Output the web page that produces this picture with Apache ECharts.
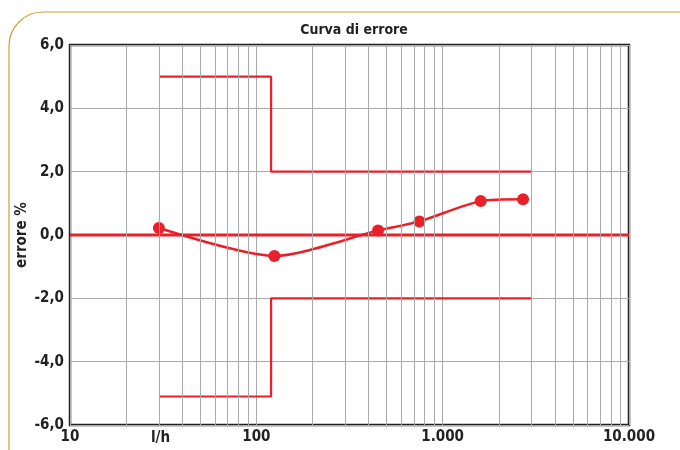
<!DOCTYPE html>
<html><head><meta charset="utf-8">
<script src="https://cdn.jsdelivr.net/npm/echarts@6/dist/echarts.min.js"></script>
<style>html,body{margin:0;padding:0;background:#fff}#c{width:680px;height:450px}</style>
</head><body><div id="c"></div>
<script>
const titleText = 'Curva di errore';
const yName = 'errore %';
const xName = 'l/h';
const flowRates = [30, 125, 450, 750, 1600, 2700];
const errors = [0.22, -0.66, 0.14, 0.43, 1.07, 1.13];
const upperLimitX = [30, 120, 120, 3000];
const upperLimitY = [5, 5, 2, 2];
const lowerLimitX = [30, 120, 120, 3000];
const lowerLimitY = [-5.1, -5.1, -2, -2];
const minorGridX = [20,30,40,50,60,70,80,90,200,300,400,500,600,700,800,900,2000,3000,4000,5000,6000,7000,8000,9000];
const xTicks = [10, 100, 1000, 10000];
const xTickLabels = ['10', '100', '1.000', '10.000'];

const FONT = "'DejaVu Sans Condensed','Liberation Sans Narrow',sans-serif";
const RED = '#e8202a';
const zip = (xs, ys) => xs.map((x, i) => [x, ys[i]]);

const chart = echarts.init(document.getElementById('c'), null, {renderer: 'canvas'});
chart.setOption({
  animation: false,
  backgroundColor: '#fff',
  title: {text: titleText, left: 349, top: 18, textAlign: 'center',
    textStyle: {fontFamily: FONT, fontWeight: 'bold', fontSize: 14, color: '#222'}},
  grid: {left: 70, right: 51, top: 45, bottom: 25, show: true, borderColor: '#222', borderWidth: 2.5, backgroundColor: 'transparent'},
  graphic: [
    {type: 'rect', shape: {x: 9, y: 12, width: 720, height: 480, r: 34}, style: {fill: 'none', stroke: '#c9a236', lineWidth: 1.2}, z: -10},
    {type: 'text', left: 151, top: 431, style: {text: xName, font: "bold 15px " + FONT, fill: '#222'}},
    {type: 'text', x: 22, y: 235, rotation: Math.PI / 2,
      style: {text: yName, font: "bold 15px " + FONT, fill: '#222', align: 'center', verticalAlign: 'middle'}}
  ],
  xAxis: {
    type: 'log', logBase: 10, min: 10, max: 10000,
    axisLine: {show: false}, axisTick: {show: false},
    splitLine: {show: true, lineStyle: {color: '#aaa', width: 1}},
    axisLabel: {margin: 5, fontFamily: FONT, fontWeight: 'bold', fontSize: 15, color: '#222',
      formatter: v => { const i = xTicks.indexOf(Math.round(v)); return i >= 0 ? xTickLabels[i] : ''; }}
  },
  yAxis: {
    type: 'value', min: -6, max: 6, interval: 2,
    axisLine: {show: false}, axisTick: {show: false},
    splitLine: {show: true, lineStyle: {color: '#aaa', width: 1}},
    axisLabel: {margin: 6, fontFamily: FONT, fontWeight: 'bold', fontSize: 15, color: '#222',
      formatter: v => v.toFixed(1).replace('.', ',')}
  },
  series: [
    {type: 'line', data: [], silent: true,
      markLine: {silent: true, symbol: 'none', label: {show: false},
        lineStyle: {color: '#aaa', width: 1, type: 'solid'},
        data: minorGridX.map(x => ({xAxis: x}))}},
    {type: 'line', data: [[10, 0], [10000, 0]], symbol: 'none', lineStyle: {color: RED, width: 3}, z: 3},
    {type: 'line', data: zip(upperLimitX, upperLimitY), symbol: 'none', lineStyle: {color: RED, width: 2.2}, z: 3},
    {type: 'line', data: zip(lowerLimitX, lowerLimitY), symbol: 'none', lineStyle: {color: RED, width: 2.2}, z: 3},
    {type: 'line', data: zip(flowRates, errors), smooth: 0.25, symbol: 'circle', symbolSize: 12,
      itemStyle: {color: RED}, lineStyle: {color: RED, width: 2.5}, z: 4}
  ]
});
</script></body></html>
